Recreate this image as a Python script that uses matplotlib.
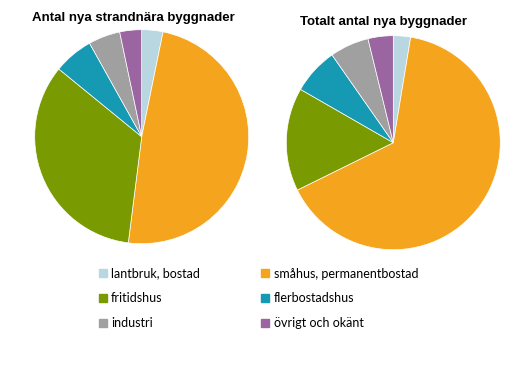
import matplotlib.pyplot as plt
from matplotlib.lines import Line2D

categories = ['lantbruk, bostad', 'småhus, permanentbostad', 'fritidshus',
              'flerbostadshus', 'industri', 'övrigt och okänt']
colors = ['#B9D7E0', '#F5A51D', '#7A9A01', '#1699B2', '#A0A0A0', '#9A65A0']
strand = [3.2, 48.8, 33.9, 6.0, 4.8, 3.3]
totalt = [2.6, 65.1, 15.6, 7.0, 5.9, 3.8]
titles = ['Antal nya strandnära byggnader', 'Totalt antal nya byggnader']

W, H = 527, 368
fig = plt.figure(figsize=(W / 100, H / 100), dpi=100)


def pie_axes(cx, cy, r):
    return fig.add_axes([(cx - r) / W, (H - cy - r) / H, 2 * r / W, 2 * r / H])


ax1 = pie_axes(141.7, 136.7, 107)
ax2 = pie_axes(393.3, 142.7, 107)
for ax, vals in [(ax1, strand), (ax2, totalt)]:
    ax.pie(vals, colors=colors, startangle=90, counterclock=False,
           wedgeprops=dict(linewidth=0.5, edgecolor='white'))
    ax.set_xlim(-1, 1)
    ax.set_ylim(-1, 1)
    ax.set_aspect('equal')
    ax.axis('off')

fig.text(133.5 / W, 1 - 18 / H, titles[0], ha='center', va='center',
         fontsize=9.5, fontweight='bold', family='Liberation Sans')
fig.text(383 / W, 1 - 22 / H, titles[1], ha='center', va='center',
         fontsize=9.5, fontweight='bold', family='Liberation Sans')

# legend fills column-first, so reorder to read row by row
order = [0, 2, 4, 1, 3, 5]
handles = [Line2D([], [], marker='s', ls='', markersize=5.2,
                  color=colors[i]) for i in order]
labels = [categories[i] for i in order]
fig.legend(handles, labels, ncol=2, loc='upper left',
           bbox_to_anchor=(99 / W, 1 - 267.5 / H), frameon=False,
           prop=dict(family='Lato', size=9), handlelength=0.6,
           handletextpad=0.35, labelspacing=1.03,
           columnspacing=4.95, borderpad=0, borderaxespad=0)

fig.savefig('out.png', dpi=100, facecolor='white')
